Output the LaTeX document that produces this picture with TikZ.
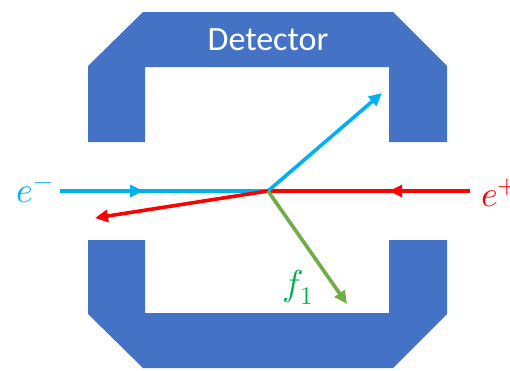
\documentclass[tikz,border=0pt]{standalone}
\usepackage{fontspec}
\usepackage{unicode-math}
\setsansfont{Carlito}
\usepackage{tikz}
\usetikzlibrary{arrows.meta,decorations.markings}
\definecolor{detector}{RGB}{68,114,196}
\definecolor{electron}{RGB}{0,176,240}
\definecolor{positron}{RGB}{255,0,0}
\definecolor{photon}{RGB}{112,173,71}
\definecolor{photonlabel}{RGB}{0,176,80}

\begin{document}
\begin{tikzpicture}[x=1pt,y=-1pt,
    track/.style={line width=3.6pt, -{Triangle[length=13pt,width=12pt]}},
    midarrow/.style={postaction={decorate},
      decoration={markings, mark=at position #1 with {\arrow{Triangle[length=13pt,width=12pt]}}}},
    particle/.style={inner sep=0pt, font=\fontsize{36}{40}\selectfont}]
  \useasboundingbox (0,0) rectangle (510,370);
  % detector halves
  \fill[detector] (88,142) -- (88,66) -- (143,12) -- (393,12) -- (447,66) -- (447,142)
    -- (389,142) -- (389,67) -- (145,67) -- (145,142) -- cycle;
  \fill[detector] (88,240) -- (145,240) -- (145,313) -- (389,313) -- (389,240) -- (447,240)
    -- (447,314) -- (393,368) -- (143,368) -- (88,314) -- cycle;
  \node[font=\sffamily\fontsize{34}{40}\selectfont, text=white] (title) at (268,40) {Detector};

  % vertex and labels
  \coordinate (v) at (268,191);
  \node[particle, text=electron, anchor=east] (em) at (54,193) {$e^-$};
  \node[particle, text=positron, anchor=west] (ep) at (481,193) {$e^+$};
  \node[particle, text=photonlabel] (f1) at (298,287) {$f_1$};
  \coordinate (eout) at (382,93);
  \coordinate (pout) at (95,218);
  \coordinate (fout) at (347,304);

  % tracks
  \draw[electron, line width=3.6pt, midarrow=0.4] (60,191) -- (v);
  \draw[positron, line width=3.6pt, midarrow=0.4] (470,191) -- (v);
  \draw[electron, track] (v) -- (eout);
  \draw[positron, track] (v) -- (pout);
  \draw[photon, track] (v) -- (fout);
\end{tikzpicture}
\end{document}
